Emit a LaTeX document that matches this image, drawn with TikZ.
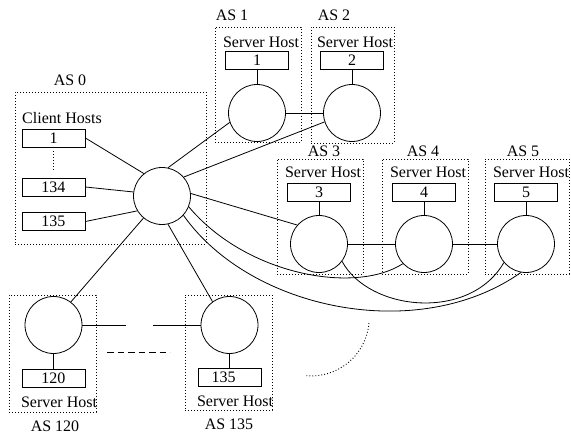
\documentclass[tikz,border=0pt]{standalone}
\usepackage{fontspec}
\setmainfont{Liberation Serif}
\usetikzlibrary{positioning}
\tikzset{
  router/.style={draw, circle, line width=0.8pt, minimum size=57pt, inner sep=0pt},
  host/.style={draw, line width=0.8pt, minimum width=63pt, minimum height=18pt, inner sep=0pt},
  asbox/.style={draw, line width=0.9pt, dash pattern=on 0.9pt off 2.1pt, inner sep=0pt},
  link/.style={line width=0.8pt},
  dotline/.style={line width=0.9pt, dash pattern=on 0.9pt off 2.1pt},
  dashline/.style={line width=0.8pt, dash pattern=on 6.5pt off 4pt},
  every node/.style={font=\fontsize{16}{18}\selectfont}
}

\begin{document}
\begin{tikzpicture}[x=1pt, y=-1pt]
    \useasboundingbox (0,0) rectangle (571,435);

    % autonomous systems
    \node[asbox, minimum width=191pt, minimum height=152pt] (as0) at (110.5,168) {};
    \node[asbox, minimum width=86pt, minimum height=115pt] (as1) at (258,84.5) {};
    \node[asbox, minimum width=83pt, minimum height=116pt] (as2) at (352.5,85) {};
    \node[asbox, minimum width=86pt, minimum height=115pt] (as3) at (320,216.5) {};
    \node[asbox, minimum width=86pt, minimum height=115pt] (as4) at (425,216.5) {};
    \node[asbox, minimum width=84pt, minimum height=115pt] (as5) at (527,216.5) {};
    \node[asbox, minimum width=87pt, minimum height=117pt] (as120) at (52.5,353.5) {};
    \node[asbox, minimum width=87pt, minimum height=115pt] (as135) at (228.5,352.5) {};

    \node (l0) at (70,80) {AS 0};
    \node (l1) at (232,15) {AS 1};
    \node (l2) at (334,15) {AS 2};
    \node (l3) at (324,151.5) {AS 3};
    \node (l4) at (423,151.5) {AS 4};
    \node (l5) at (523,151.5) {AS 5};
    \node (l120) at (55,426) {AS 120};
    \node (l135) at (229,424) {AS 135};

    % routers
    \node[router] (r0) at (162,196) {};
    \node[router] (r1) at (257,113) {};
    \node[router] (r2) at (352,113) {};
    \node[router] (r3) at (319,244) {};
    \node[router] (r4) at (424,244) {};
    \node[router] (r5) at (526,244) {};
    \node[router] (r120) at (53.5,325) {};
    \node[router] (r135) at (229.5,325) {};

    % hosts
    \node (ch) at (62,118) {Client Hosts};
    \node[host] (c1) at (53.5,138) {1};
    \node[host] (c134) at (53.5,187) {134};
    \node[host] (c135) at (53.5,221.5) {135};

    \node (s1) at (261,42) {Server Host};
    \node (s2) at (355,42) {Server Host};
    \node (s3) at (323,172) {Server Host};
    \node (s4) at (428,172) {Server Host};
    \node (s5) at (531,172) {Server Host};
    \node (s120) at (59,402) {Server Host};
    \node (s135) at (235,401) {Server Host};

    \node[host] (h1) at (257,60) {1};
    \node[host] (h2) at (352,60) {2};
    \node[host] (h3) at (319,192.5) {3};
    \node[host] (h4) at (424,192) {4};
    \node[host] (h5) at (526,192) {5};
    \node[host] (h120) at (53.5,378) {120};
    \node[host] (h135) at (229.5,377.5) {\hspace*{-12pt}\raisebox{-3pt}{135}};

    % host to router
    \draw[link] (c1.east) -- (r0.129);
    \draw[link] (c134.east) -- (r0.172);
    \draw[link] (c135.east) -- (r0.211);
    \draw[dotline, shorten <=4pt, shorten >=6pt] (c1) -- (c134);
    \foreach \n in {1,2,3,4,5,120,135}
        \draw[link] (h\n) -- (r\n);

    % inter-AS links
    \draw[link] (r0.78) -- (r1.199);
    \draw[link] (r0.41) -- (r2.198);
    \draw[link] (r0.5) -- (r3.139);
    \draw[link] (r0.230) -- (r120.53);
    \draw[link] (r0.282) -- (r135.126);
    \draw[link] (r1) -- (r2);
    \draw[link] (r3) -- (r4);
    \draw[link] (r4) -- (r5);
    \draw[link] (r0.-22) .. controls +(57,68) and +(-48,31) .. (r4.223);
    \draw[link] (r0.-42) .. controls +(67,95) and +(-102,72) .. (r5.260);
    \draw[link] (r3.-37) .. controls +(27,50) and +(-34,59) .. (r5.220);

    % the rest of the chain
    \coordinate (gapl) at (126,325);
    \coordinate (gapr) at (153,325);
    \coordinate (dl) at (107,352);
    \coordinate (dr) at (170,352);
    \draw[link] (r120) -- (gapl);
    \draw[link] (gapr) -- (r135);
    \draw[dashline] (dl) -- (dr);
    \draw[dotline] (369,323) arc[start angle=-5, end angle=-95, radius=58pt];
\end{tikzpicture}
\end{document}
